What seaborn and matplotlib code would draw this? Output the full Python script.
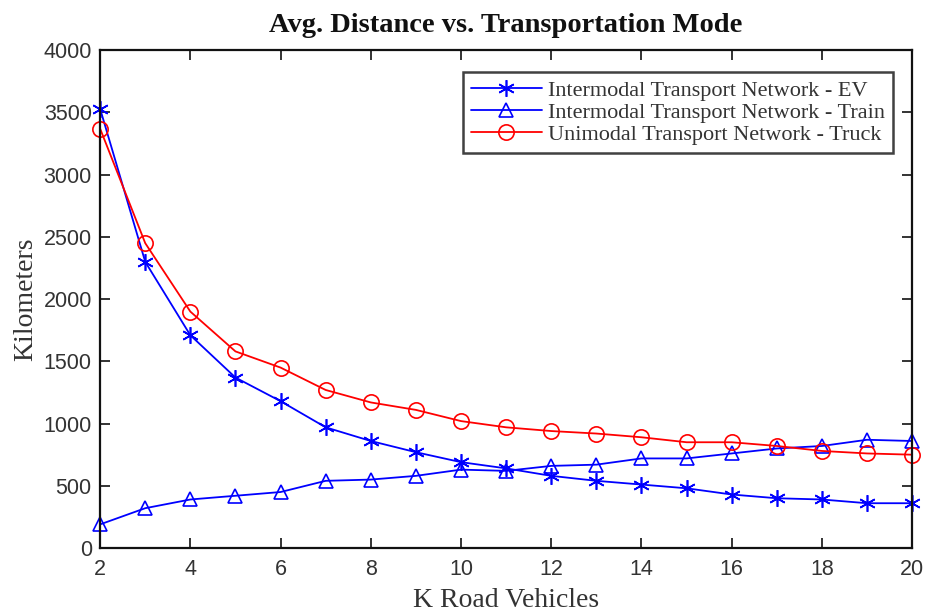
import matplotlib
matplotlib.use("Agg")
import matplotlib.pyplot as plt
import seaborn as sns
import pandas as pd

k_values = list(range(2, 21))
ev_km = [3530, 2300, 1710, 1370, 1180, 970, 860, 770, 690, 640, 580, 540, 510, 480, 430, 400, 390, 360, 360]
train_km = [190, 320, 390, 420, 450, 540, 550, 580, 630, 620, 660, 670, 720, 720, 760, 800, 820, 870, 860]
truck_km = [3370, 2450, 1900, 1580, 1450, 1270, 1170, 1110, 1020, 970, 940, 920, 890, 850, 850, 820, 780, 760, 750]
series_names = ["Intermodal Transport Network - EV",
                "Intermodal Transport Network - Train",
                "Unimodal Transport Network - Truck"]
title_text = "Avg. Distance vs. Transportation Mode"
x_label = "K Road Vehicles"
y_label = "Kilometers"
x_ticks = list(range(2, 21, 2))
y_ticks = list(range(0, 4001, 500))

sns.set_theme(style="white")
serif = ["Liberation Serif", "DejaVu Serif"]
sans = ["Liberation Sans", "DejaVu Sans"]

fig = plt.figure(figsize=(9.27, 6.13), dpi=100)
ax = fig.add_axes([0.108, 0.106, 0.876, 0.812])

styles = [
    (ev_km, "#0000ff", (6, 2, 0), 12),
    (train_km, "#0000ff", "^", 10),
    (truck_km, "#ff0000", "o", 11),
]
for name, (vals, col, mk, ms) in zip(series_names, styles):
    df = pd.DataFrame({"k": k_values, "km": vals})
    sns.lineplot(data=df, x="k", y="km", ax=ax, color=col, marker=mk,
                 markersize=ms, markerfacecolor="none", markeredgecolor=col,
                 markeredgewidth=1.2, linewidth=1.3, label=name, clip_on=False)

ax.set_xlim(2, 20)
ax.set_ylim(0, 4000)
ax.set_xticks(x_ticks)
ax.set_yticks(y_ticks)
for lab in ax.get_xticklabels() + ax.get_yticklabels():
    lab.set_family(sans)
    lab.set_fontsize(15.5)
ax.tick_params(direction="in", length=7, width=1.2, top=True, right=True,
               bottom=True, left=True, colors="#111111", labelcolor="#333333", pad=6)
ax.tick_params(axis="x", pad=8)
for sp in ax.spines.values():
    sp.set_color("#111111")
    sp.set_linewidth(1.6)

ax.set_xlabel(x_label, family=serif, fontsize=20, color="#333333", labelpad=6)
ax.set_ylabel(y_label, family=serif, fontsize=20, color="#333333", labelpad=4)
ax.set_title(title_text, family=serif, fontsize=20.5, fontweight="bold", pad=13, color="#111111")

leg = ax.legend(loc="upper right", bbox_to_anchor=(0.9766, 0.956),
                prop={"family": serif, "size": 16}, frameon=True, fancybox=False,
                borderpad=0.35, labelspacing=0.08, handlelength=3.2, handletextpad=0.3,
                borderaxespad=0.0)
leg.get_frame().set_edgecolor("#111111")
leg.get_frame().set_linewidth(1.8)
for t in leg.get_texts():
    t.set_color("#333333")

fig.savefig("out.png", dpi=100)
